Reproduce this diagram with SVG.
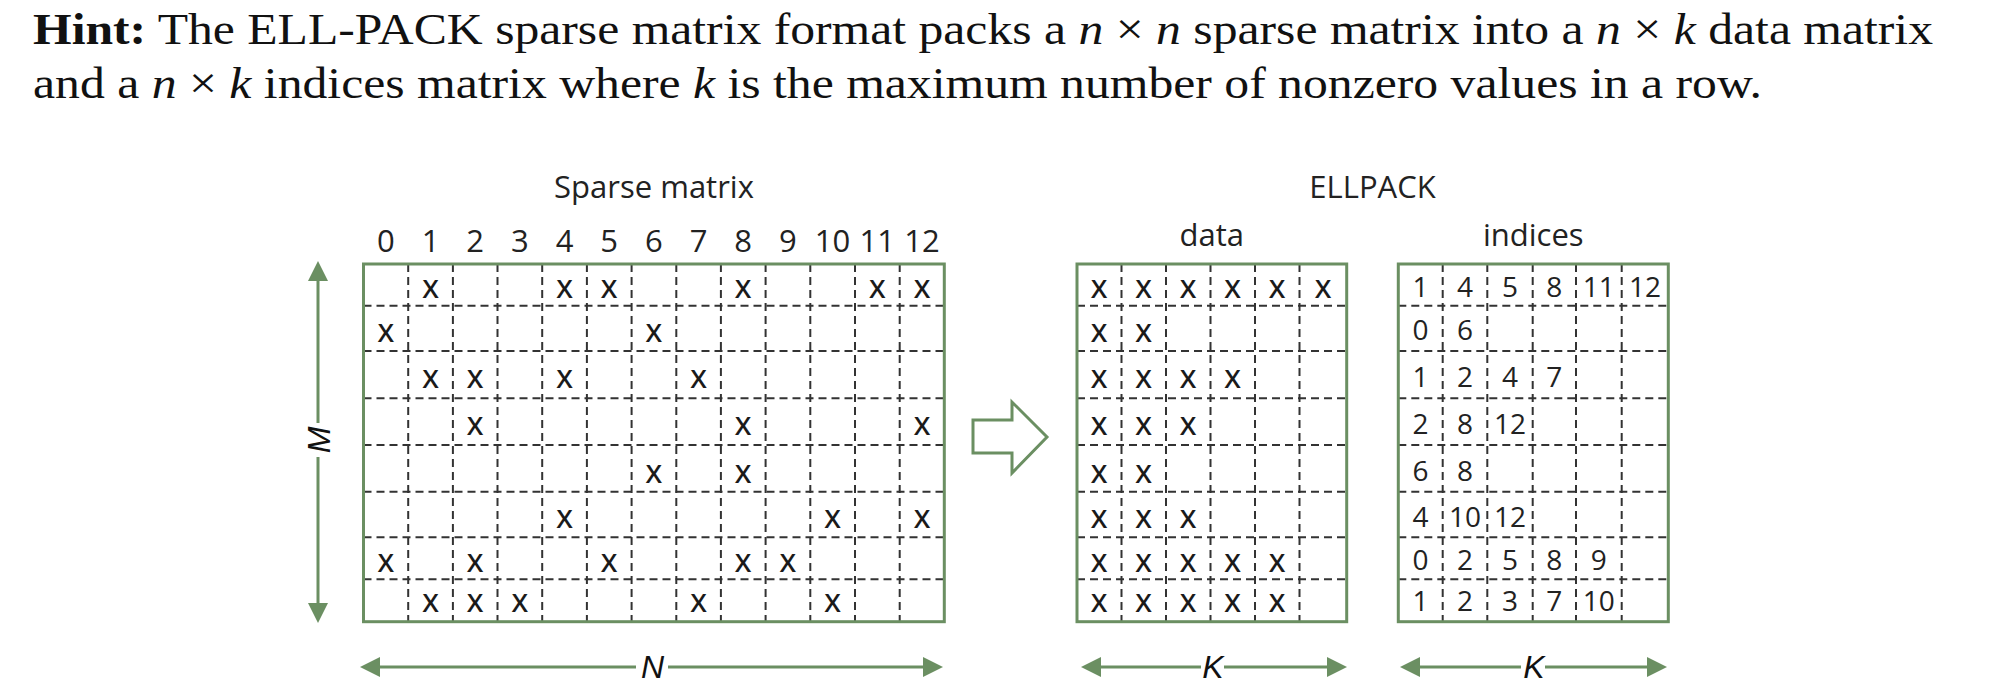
<svg xmlns="http://www.w3.org/2000/svg" width="2010" height="694" viewBox="0 0 2010 694">
<style>
.hdr{font-family:"Liberation Serif","Times New Roman",serif;font-size:45px;fill:#111}
.it{font-style:italic}
.b{font-weight:bold}
.lbl{font-family:"Open Sans","Liberation Sans",sans-serif;font-size:31px;fill:#222;text-anchor:middle}
.x{font-family:"Open Sans","Liberation Sans",sans-serif;font-size:26px;font-weight:600;fill:#1a1a1a;text-anchor:middle}
.d{font-family:"Open Sans","Liberation Sans",sans-serif;font-size:28px;fill:#222;text-anchor:middle}
.dim{font-family:"Liberation Sans",Arial,sans-serif;font-size:32px;font-style:italic;fill:#111;text-anchor:middle}
.frame{fill:none;stroke:#6b8f62;stroke-width:3}
.dash{stroke:#333;stroke-width:2;stroke-dasharray:8 5;fill:none}
.arr{stroke:#6b8f62;stroke-width:3;fill:none;marker-end:url(#ah)}
</style>
<defs>
<marker id="ah" markerUnits="userSpaceOnUse" viewBox="0 0 20 20" markerWidth="20" markerHeight="20" refX="10" refY="10" orient="auto">
<path d="M0,0 L20,10 L0,20 Z" fill="#6b8f62"/>
</marker>
</defs>

<g id="header">
<text class="hdr" x="33" y="44" textLength="1900" lengthAdjust="spacingAndGlyphs"><tspan class="b">Hint:</tspan> The ELL-PACK sparse matrix format packs a <tspan class="it">n</tspan> × <tspan class="it">n</tspan> sparse matrix into a <tspan class="it">n</tspan> × <tspan class="it">k</tspan> data matrix</text>
<text class="hdr" x="33" y="98" textLength="1729" lengthAdjust="spacingAndGlyphs">and a <tspan class="it">n</tspan> × <tspan class="it">k</tspan> indices matrix where <tspan class="it">k</tspan> is the maximum number of nonzero values in a row.</text>
</g>

<g id="sparse-matrix">
<text class="lbl" x="654" y="198">Sparse matrix</text>
<g id="col-headers">
<text class="lbl" x="385.8" y="252">0</text>
<text class="lbl" x="430.5" y="252">1</text>
<text class="lbl" x="475.2" y="252">2</text>
<text class="lbl" x="519.9" y="252">3</text>
<text class="lbl" x="564.5" y="252">4</text>
<text class="lbl" x="609.2" y="252">5</text>
<text class="lbl" x="653.9" y="252">6</text>
<text class="lbl" x="698.6" y="252">7</text>
<text class="lbl" x="743.2" y="252">8</text>
<text class="lbl" x="787.9" y="252">9</text>
<text class="lbl" x="832.6" y="252">10</text>
<text class="lbl" x="877.3" y="252">11</text>
<text class="lbl" x="922" y="252">12</text>
</g>
<g class="dash">
<path d="M408.2,264V621.7M452.9,264V621.7M497.5,264V621.7M542.2,264V621.7M586.9,264V621.7M631.6,264V621.7M676.3,264V621.7M720.9,264V621.7M765.6,264V621.7M810.3,264V621.7M855,264V621.7M899.7,264V621.7"/>
<path d="M363.5,305.7H944.3M363.5,351H944.3M363.5,398.3H944.3M363.5,445H944.3M363.5,491.7H944.3M363.5,537.3H944.3M363.5,579.3H944.3"/>
</g>
<rect class="frame" x="363.5" y="264" width="580.8" height="357.7"/>
<g id="sparse-values">
<text class="x" x="430.5" y="298">X</text><text class="x" x="564.5" y="298">X</text><text class="x" x="609.2" y="298">X</text><text class="x" x="743.2" y="298">X</text><text class="x" x="877.3" y="298">X</text><text class="x" x="922" y="298">X</text>
<text class="x" x="385.8" y="341.5">X</text><text class="x" x="653.9" y="341.5">X</text>
<text class="x" x="430.5" y="388">X</text><text class="x" x="475.2" y="388">X</text><text class="x" x="564.5" y="388">X</text><text class="x" x="698.6" y="388">X</text>
<text class="x" x="475.2" y="435">X</text><text class="x" x="743.2" y="435">X</text><text class="x" x="922" y="435">X</text>
<text class="x" x="653.9" y="483">X</text><text class="x" x="743.2" y="483">X</text>
<text class="x" x="564.5" y="528">X</text><text class="x" x="832.6" y="528">X</text><text class="x" x="922" y="528">X</text>
<text class="x" x="385.8" y="571.5">X</text><text class="x" x="475.2" y="571.5">X</text><text class="x" x="609.2" y="571.5">X</text><text class="x" x="743.2" y="571.5">X</text><text class="x" x="787.9" y="571.5">X</text>
<text class="x" x="430.5" y="611.5">X</text><text class="x" x="475.2" y="611.5">X</text><text class="x" x="519.9" y="611.5">X</text><text class="x" x="698.6" y="611.5">X</text><text class="x" x="832.6" y="611.5">X</text>
</g>
</g>

<g id="ellpack-title">
<text class="lbl" x="1372.5" y="198">ELLPACK</text>
</g>

<g id="data-matrix">
<text class="lbl" x="1211.7" y="246">data</text>
<g class="dash">
<path d="M1121.5,264V621.7M1166,264V621.7M1210.5,264V621.7M1255,264V621.7M1299.5,264V621.7"/>
<path d="M1077,305.7H1346.7M1077,351H1346.7M1077,398.3H1346.7M1077,445H1346.7M1077,491.7H1346.7M1077,537.3H1346.7M1077,579.3H1346.7"/>
</g>
<rect class="frame" x="1077" y="264" width="269.7" height="357.7"/>
<g id="data-values">
<text class="x" x="1099.2" y="298">X</text><text class="x" x="1143.7" y="298">X</text><text class="x" x="1188.2" y="298">X</text><text class="x" x="1232.7" y="298">X</text><text class="x" x="1277.2" y="298">X</text><text class="x" x="1323" y="298">X</text>
<text class="x" x="1099.2" y="341.5">X</text><text class="x" x="1143.7" y="341.5">X</text>
<text class="x" x="1099.2" y="388">X</text><text class="x" x="1143.7" y="388">X</text><text class="x" x="1188.2" y="388">X</text><text class="x" x="1232.7" y="388">X</text>
<text class="x" x="1099.2" y="435">X</text><text class="x" x="1143.7" y="435">X</text><text class="x" x="1188.2" y="435">X</text>
<text class="x" x="1099.2" y="483">X</text><text class="x" x="1143.7" y="483">X</text>
<text class="x" x="1099.2" y="528">X</text><text class="x" x="1143.7" y="528">X</text><text class="x" x="1188.2" y="528">X</text>
<text class="x" x="1099.2" y="571.5">X</text><text class="x" x="1143.7" y="571.5">X</text><text class="x" x="1188.2" y="571.5">X</text><text class="x" x="1232.7" y="571.5">X</text><text class="x" x="1277.2" y="571.5">X</text>
<text class="x" x="1099.2" y="611.5">X</text><text class="x" x="1143.7" y="611.5">X</text><text class="x" x="1188.2" y="611.5">X</text><text class="x" x="1232.7" y="611.5">X</text><text class="x" x="1277.2" y="611.5">X</text>
</g>
</g>

<g id="indices-matrix">
<text class="lbl" x="1533.3" y="246">indices</text>
<g class="dash">
<path d="M1442.7,264V621.7M1487.3,264V621.7M1532.7,264V621.7M1576,264V621.7M1621.7,264V621.7"/>
<path d="M1398.3,305.7H1668.3M1398.3,351H1668.3M1398.3,398.3H1668.3M1398.3,445H1668.3M1398.3,491.7H1668.3M1398.3,537.3H1668.3M1398.3,579.3H1668.3"/>
</g>
<rect class="frame" x="1398.3" y="264" width="270" height="357.7"/>
<g id="indices-values">
<text class="d" x="1420.5" y="297">1</text><text class="d" x="1465" y="297">4</text><text class="d" x="1510" y="297">5</text><text class="d" x="1554.3" y="297">8</text><text class="d" x="1598.8" y="297">11</text><text class="d" x="1645" y="297">12</text>
<text class="d" x="1420.5" y="340">0</text><text class="d" x="1465" y="340">6</text>
<text class="d" x="1420.5" y="387">1</text><text class="d" x="1465" y="387">2</text><text class="d" x="1510" y="387">4</text><text class="d" x="1554.3" y="387">7</text>
<text class="d" x="1420.5" y="433.5">2</text><text class="d" x="1465" y="433.5">8</text><text class="d" x="1510" y="433.5">12</text>
<text class="d" x="1420.5" y="480.5">6</text><text class="d" x="1465" y="480.5">8</text>
<text class="d" x="1420.5" y="527">4</text><text class="d" x="1465" y="527">10</text><text class="d" x="1510" y="527">12</text>
<text class="d" x="1420.5" y="570">0</text><text class="d" x="1465" y="570">2</text><text class="d" x="1510" y="570">5</text><text class="d" x="1554.3" y="570">8</text><text class="d" x="1598.8" y="570">9</text>
<text class="d" x="1420.5" y="610.5">1</text><text class="d" x="1465" y="610.5">2</text><text class="d" x="1510" y="610.5">3</text><text class="d" x="1554.3" y="610.5">7</text><text class="d" x="1598.8" y="610.5">10</text>
</g>
</g>

<g id="connectors">
<polygon id="transform-arrow" points="973,420 1012,420 1012,402 1047,437 1012,473 1012,453 973,453" fill="#fff" stroke="#6b8f62" stroke-width="3" stroke-linejoin="miter"/>
<g id="dim-M">
<line class="arr" x1="318" y1="423" x2="318" y2="271"/>
<line class="arr" x1="318" y1="457" x2="318" y2="613"/>
<text class="dim" transform="translate(330,440) rotate(-90)" x="0" y="0">M</text>
</g>
<g id="dim-N">
<line class="arr" x1="636" y1="667" x2="370" y2="667"/>
<line class="arr" x1="668" y1="667" x2="933" y2="667"/>
<text class="dim" x="652.6" y="678">N</text>
</g>
<g id="dim-K-data">
<line class="arr" x1="1201" y1="667" x2="1091" y2="667"/>
<line class="arr" x1="1224" y1="667" x2="1337" y2="667"/>
<text class="dim" x="1213" y="678">K</text>
</g>
<g id="dim-K-indices">
<line class="arr" x1="1521" y1="667" x2="1410" y2="667"/>
<line class="arr" x1="1545" y1="667" x2="1657" y2="667"/>
<text class="dim" x="1534" y="678">K</text>
</g>
</g>
</svg>
